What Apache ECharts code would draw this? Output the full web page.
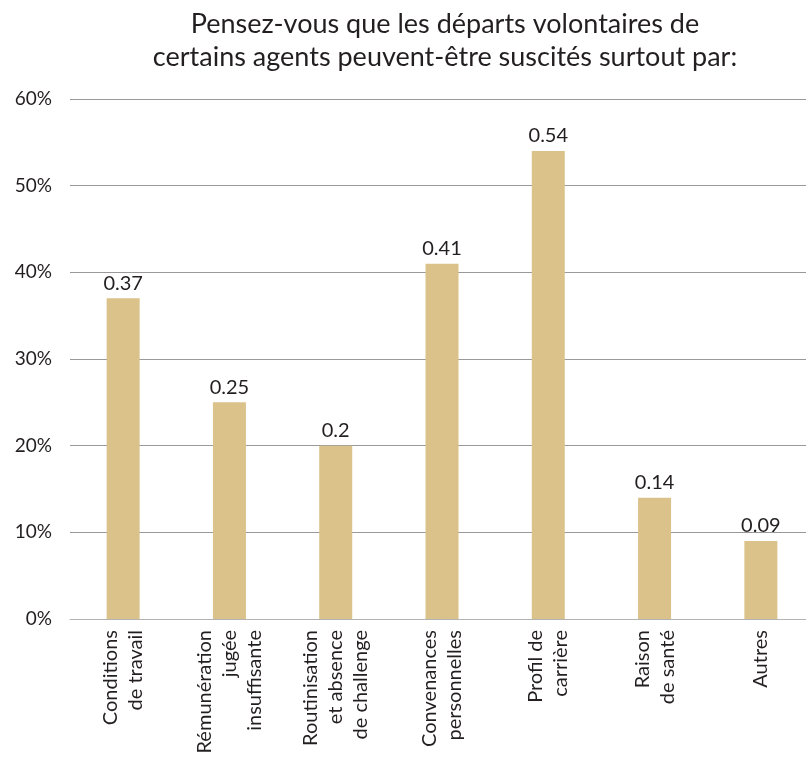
<!DOCTYPE html>
<html><head><meta charset="utf-8">
<script src="https://cdn.jsdelivr.net/npm/echarts@6/dist/echarts.min.js"></script>
<style>html,body{margin:0;padding:0;background:#fff;overflow:hidden}#c{width:814px;height:767px}</style>
</head><body><div id="c"></div>
<script>
var titleText = "Pensez-vous que les départs volontaires de\ncertains agents peuvent-être suscités surtout par:";
var categories = ["Conditions\nde travail", "Rémunération\njugée\ninsuffisante", "Routinisation\net absence\nde challenge", "Convenances\npersonnelles", "Profil de\ncarrière", "Raison\nde santé", "Autres"];
var values = [0.37, 0.25, 0.2, 0.41, 0.54, 0.14, 0.09];
var yMin = 0, yMax = 0.6, yStep = 0.1;

var FONT = "Lato";
var TXT = "#231f20";
var chart = echarts.init(document.getElementById('c'), null, {renderer: 'canvas'});
chart.setOption({
  animation: false,
  backgroundColor: '#fff',
  title: {
    text: titleText, left: 440, textAlign: 'center', top: 3,
    textStyle: {fontFamily: FONT, fontSize: 27, fontWeight: 'normal', color: TXT, lineHeight: 33}
  },
  grid: {left: 70, right: 0, top: 99, bottom: 148, containLabel: false},
  xAxis: {
    type: 'category', data: categories,
    axisLine: {lineStyle: {color: '#b3b3b3', width: 1}},
    axisTick: {show: false},
    axisLabel: {rotate: 90, margin: 11, interval: 0, fontFamily: FONT, fontSize: 20, color: TXT, lineHeight: 25}
  },
  yAxis: {
    type: 'value', min: yMin, max: yMax, interval: yStep,
    axisLine: {show: false}, axisTick: {show: false},
    splitLine: {lineStyle: {color: '#999999', width: 1}},
    axisLabel: {margin: 18, fontFamily: FONT, fontSize: 19, color: TXT,
      formatter: function (v) { return Math.round(v * 100) + '%'; }}
  },
  series: [{
    type: 'bar', data: values, barWidth: 33,
    itemStyle: {color: '#dbc28a'},
    label: {show: true, position: 'top', distance: 5, fontFamily: FONT, fontSize: 20, color: TXT}
  }]
});
</script></body></html>
